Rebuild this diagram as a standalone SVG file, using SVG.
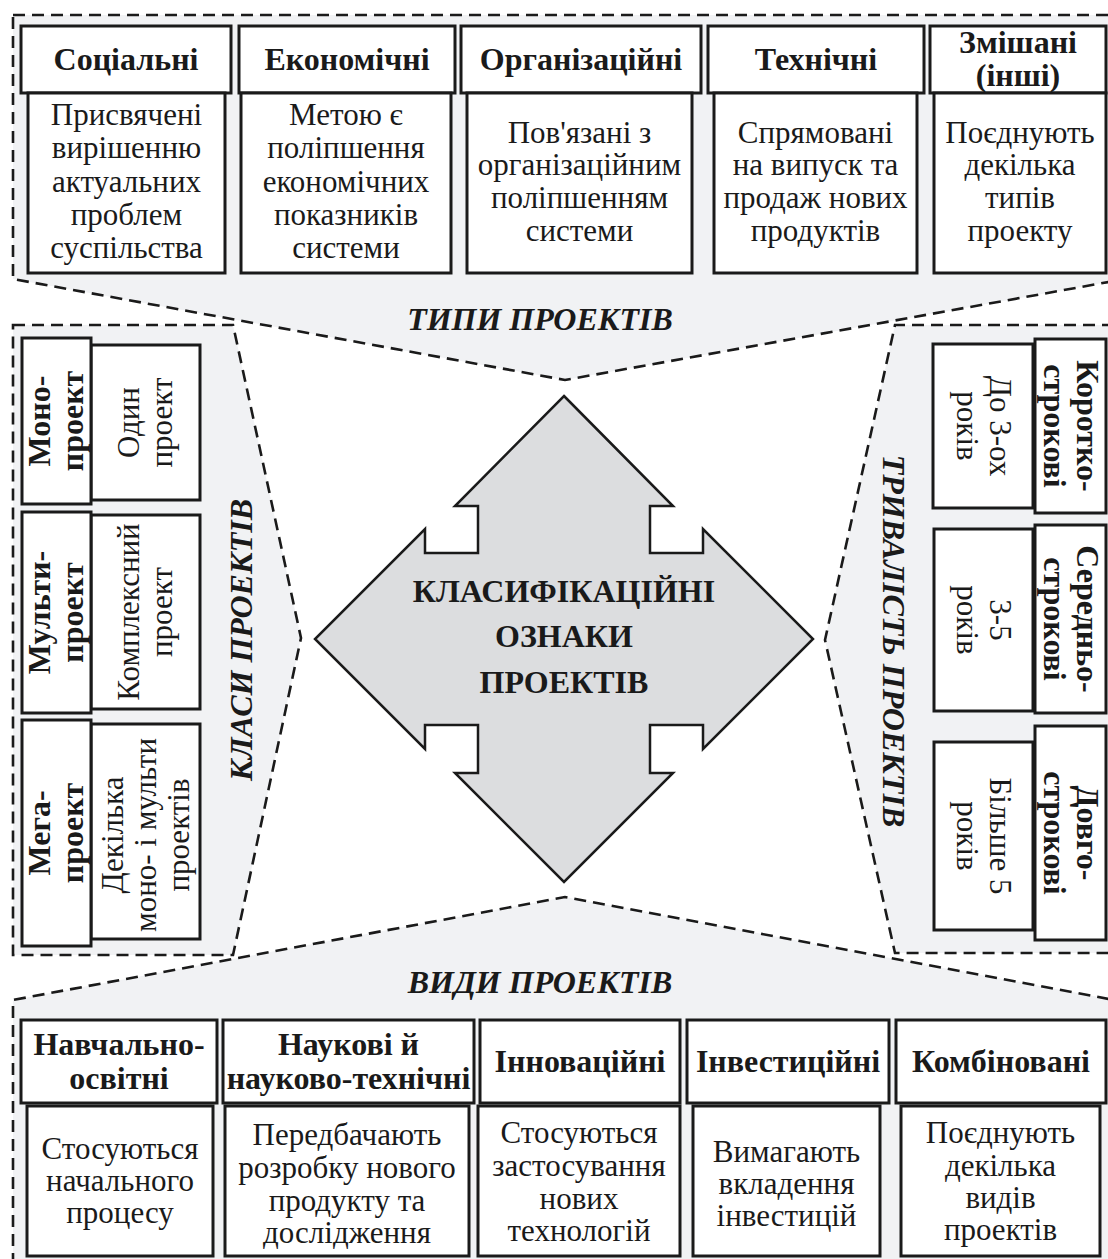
<svg xmlns="http://www.w3.org/2000/svg" width="1108" height="1259" viewBox="0 0 1108 1259">
<style>
.panel{fill:#f1f2f4;stroke:#1a1a1a;stroke-width:2.6;stroke-dasharray:12 7}
.box{fill:#fff;stroke:#1a1a1a;stroke-width:3}
.h{font-family:"Liberation Serif","Times New Roman",serif;font-weight:bold;font-size:32px;fill:#1a1a1a;text-anchor:middle}
.b{font-family:"Liberation Serif","Times New Roman",serif;font-size:31px;fill:#1a1a1a;text-anchor:middle}
.lab{font-family:"Liberation Serif","Times New Roman",serif;font-weight:bold;font-style:italic;font-size:32px;fill:#1a1a1a;text-anchor:middle}
.c{font-family:"Liberation Serif","Times New Roman",serif;font-weight:bold;font-size:32px;fill:#1a1a1a;text-anchor:middle}
</style>
<rect width="1108" height="1259" fill="#fff"/>
<g id="panels">
<polygon class="panel" points="13,15 1114,15 1114,281 565,380 13,279"/>
<polygon class="panel" points="13,325 233,325 301,638 233,955 13,955"/>
<polygon class="panel" points="1114,325 895,325 825,640 895,953 1114,953"/>
<polygon class="panel" points="13,1265 13,1000 565,897 1114,1000 1114,1265"/>
</g>
<g id="labels">
<text class="lab" x="540" y="330">ТИПИ ПРОЕКТІВ</text>
<text class="lab" x="540" y="993">ВИДИ ПРОЕКТІВ</text>
<text class="lab" transform="translate(252,640) rotate(-90)">КЛАСИ ПРОЕКТІВ</text>
<text class="lab" transform="translate(883,641) rotate(90)">ТРИВАЛІСТЬ ПРОЕКТІВ</text>
</g>
<g id="center">
<polygon points="564,396 673,506 650,506 650,553 703,553 703,529 813,639 703,749 703,725 650,725 650,773 673,773 564,882 455,773 478,773 478,725 425,725 425,749 315,639 425,529 425,553 478,553 478,506 455,506" fill="#dcdddf" stroke="#1a1a1a" stroke-width="2.5" stroke-linejoin="miter"/>
<text class="c" x="564" y="602">КЛАСИФІКАЦІЙНІ</text>
<text class="c" x="564" y="647">ОЗНАКИ</text>
<text class="c" x="564" y="693">ПРОЕКТІВ</text>
</g>
<g id="type-social">
<rect class="box" x="21" y="26" width="210" height="67"/>
<rect class="box" x="28" y="93" width="197" height="180"/>
<text class="h" x="126" y="70">Соціальні</text>
<text class="b" x="126.5" y="125">Присвячені</text>
<text class="b" x="126.5" y="158">вирішенню</text>
<text class="b" x="126.5" y="192">актуальних</text>
<text class="b" x="126.5" y="225">проблем</text>
<text class="b" x="126.5" y="258">суспільства</text>
</g>
<g id="type-economic">
<rect class="box" x="239" y="26" width="216" height="67"/>
<rect class="box" x="241" y="93" width="210" height="180"/>
<text class="h" x="347" y="70">Економічні</text>
<text class="b" x="346" y="125">Метою є</text>
<text class="b" x="346" y="158">поліпшення</text>
<text class="b" x="346" y="192">економічних</text>
<text class="b" x="346" y="225">показників</text>
<text class="b" x="346" y="258">системи</text>
</g>
<g id="type-organizational">
<rect class="box" x="461" y="26" width="240" height="67"/>
<rect class="box" x="467" y="93" width="225" height="180"/>
<text class="h" x="581" y="70">Організаційні</text>
<text class="b" x="579.5" y="143">Пов'язані з</text>
<text class="b" x="579.5" y="175">організаційним</text>
<text class="b" x="579.5" y="208">поліпшенням</text>
<text class="b" x="579.5" y="241">системи</text>
</g>
<g id="type-technical">
<rect class="box" x="708" y="26" width="216" height="67"/>
<rect class="box" x="714" y="93" width="203" height="180"/>
<text class="h" x="816" y="70">Технічні</text>
<text class="b" x="815.5" y="143">Спрямовані</text>
<text class="b" x="815.5" y="175">на випуск та</text>
<text class="b" x="815.5" y="208">продаж нових</text>
<text class="b" x="815.5" y="241">продуктів</text>
</g>
<g id="type-mixed">
<rect class="box" x="930" y="26" width="176" height="67"/>
<rect class="box" x="934" y="93" width="172" height="180"/>
<text class="h" x="1018" y="53">Змішані</text>
<text class="h" x="1018" y="86">(інші)</text>
<text class="b" x="1020" y="143">Поєднують</text>
<text class="b" x="1020" y="175">декілька</text>
<text class="b" x="1020" y="208">типів</text>
<text class="b" x="1020" y="241">проекту</text>
</g>
<g id="class-mono">
<rect class="box" x="91" y="345" width="109" height="155"/>
<rect class="box" x="22" y="338" width="69" height="166"/>
<g transform="translate(56.5,421) rotate(-90)"><text class="h" y="-6.5">Моно-</text><text class="h" y="26.5">проект</text></g>
<g transform="translate(145.5,422.5) rotate(-90)"><text class="b" y="-6.5">Один</text><text class="b" y="26.5">проект</text></g>
</g>
<g id="class-multi">
<rect class="box" x="91" y="515" width="109" height="194"/>
<rect class="box" x="22" y="512" width="69" height="201"/>
<g transform="translate(56.5,612.5) rotate(-90)"><text class="h" y="-6.5">Мульти-</text><text class="h" y="26.5">проект</text></g>
<g transform="translate(145.5,612) rotate(-90)"><text class="b" y="-6.5">Комплексний</text><text class="b" y="26.5">проект</text></g>
</g>
<g id="class-mega">
<rect class="box" x="91" y="724" width="109" height="215"/>
<rect class="box" x="22" y="720" width="69" height="226"/>
<g transform="translate(56.5,833) rotate(-90)"><text class="h" y="-6.5">Мега-</text><text class="h" y="26.5">проект</text></g>
<g transform="translate(145.5,835) rotate(-90)"><text class="b" y="-23">Декілька</text><text class="b" y="10">моно- і мульти</text><text class="b" y="43">проектів</text></g>
</g>
<g id="duration-short">
<rect class="box" x="933" y="344" width="100" height="164"/>
<rect class="box" x="1035" y="339" width="71" height="174"/>
<g transform="translate(1070.5,426) rotate(90)"><text class="h" y="-6.5">Коротко-</text><text class="h" y="26.5">строкові</text></g>
<g transform="translate(983,426) rotate(90)"><text class="b" y="-6.5">До 3-ох</text><text class="b" y="26.5">років</text></g>
</g>
<g id="duration-medium">
<rect class="box" x="934" y="529" width="99" height="182"/>
<rect class="box" x="1035" y="525" width="71" height="188"/>
<g transform="translate(1070.5,619) rotate(90)"><text class="h" y="-6.5">Середньо-</text><text class="h" y="26.5">строкові</text></g>
<g transform="translate(983.5,620) rotate(90)"><text class="b" y="-6.5">3-5</text><text class="b" y="26.5">років</text></g>
</g>
<g id="duration-long">
<rect class="box" x="934" y="742" width="99" height="188"/>
<rect class="box" x="1035" y="726" width="71" height="214"/>
<g transform="translate(1070.5,833) rotate(90)"><text class="h" y="-6.5">Довго-</text><text class="h" y="26.5">строкові</text></g>
<g transform="translate(983.5,836) rotate(90)"><text class="b" y="-6.5">Більше 5</text><text class="b" y="26.5">років</text></g>
</g>
<g id="kind-educational">
<rect class="box" x="21" y="1020" width="196" height="83"/>
<rect class="box" x="27" y="1106" width="186" height="150"/>
<text class="h" x="119" y="1055">Навчально-</text>
<text class="h" x="119" y="1089">освітні</text>
<text class="b" x="120" y="1159">Стосуються</text>
<text class="b" x="120" y="1191">начального</text>
<text class="b" x="120" y="1223">процесу</text>
</g>
<g id="kind-scientific">
<rect class="box" x="223" y="1020" width="251" height="83"/>
<rect class="box" x="225" y="1106" width="244" height="150"/>
<text class="h" x="348.5" y="1055">Наукові й</text>
<text class="h" x="348.5" y="1089">науково-технічні</text>
<text class="b" x="347" y="1145">Передбачають</text>
<text class="b" x="347" y="1178">розробку нового</text>
<text class="b" x="347" y="1211">продукту та</text>
<text class="b" x="347" y="1243">дослідження</text>
</g>
<g id="kind-innovative">
<rect class="box" x="480" y="1020" width="200" height="83"/>
<rect class="box" x="478" y="1106" width="202" height="150"/>
<text class="h" x="580" y="1072">Інноваційні</text>
<text class="b" x="579" y="1143">Стосуються</text>
<text class="b" x="579" y="1176">застосування</text>
<text class="b" x="579" y="1209">нових</text>
<text class="b" x="579" y="1241">технологій</text>
</g>
<g id="kind-investment">
<rect class="box" x="687" y="1020" width="202" height="83"/>
<rect class="box" x="693" y="1106" width="187" height="150"/>
<text class="h" x="788" y="1072">Інвестиційні</text>
<text class="b" x="786.5" y="1162">Вимагають</text>
<text class="b" x="786.5" y="1194">вкладення</text>
<text class="b" x="786.5" y="1226">інвестицій</text>
</g>
<g id="kind-combined">
<rect class="box" x="896" y="1020" width="210" height="83"/>
<rect class="box" x="901" y="1106" width="199" height="150"/>
<text class="h" x="1001" y="1072">Комбіновані</text>
<text class="b" x="1000.5" y="1143">Поєднують</text>
<text class="b" x="1000.5" y="1176">декілька</text>
<text class="b" x="1000.5" y="1208">видів</text>
<text class="b" x="1000.5" y="1240">проектів</text>
</g>
</svg>
